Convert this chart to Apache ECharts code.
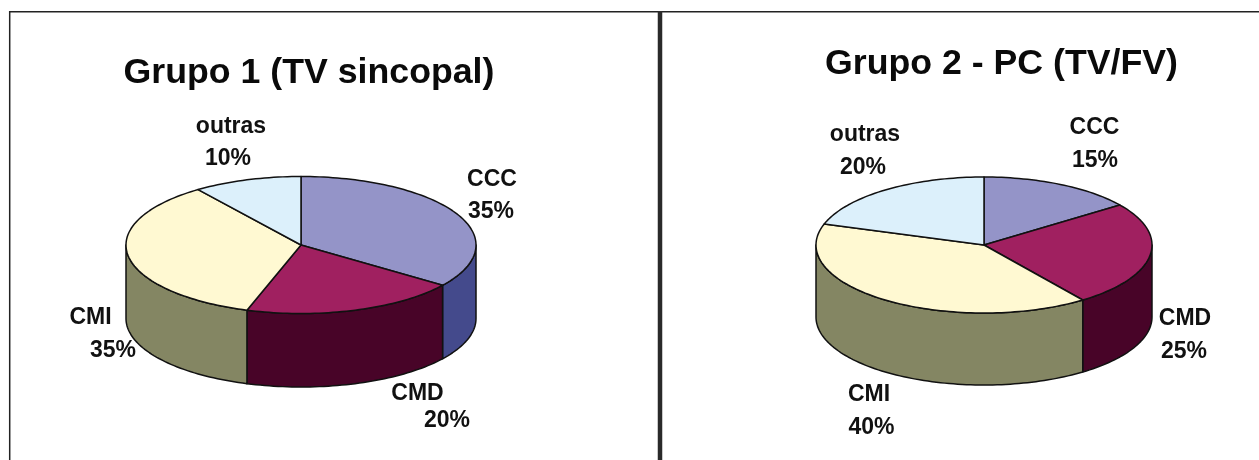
<!DOCTYPE html>
<html>
<head>
<meta charset="utf-8">
<style>html,body{margin:0;padding:0;background:#fff}#chart{width:1259px;height:460px}</style>
<script src="https://cdn.jsdelivr.net/npm/echarts@6/dist/echarts.min.js"></script>
</head>
<body>
<div id="chart"></div>
<script>
// Causes per group, clockwise from twelve o'clock
const categories = ['CCC', 'CMD', 'CMI', 'outras'];
const grupo1Values = [35, 20, 35, 10];
const grupo2Values = [15, 25, 40, 20];
const grupo1Title = 'Grupo 1 (TV sincopal)';
const grupo2Title = 'Grupo 2 - PC (TV/FV)';

const topColors = ['#9494c8', '#a02060', '#fff9d2', '#dcf0fb'];
const wallColors = ['#444a8c', '#480428', '#848663', '#a0b4c0'];

// Centre and radii of each disc's top face, with the height of its wall
const disc1 = { cx: 301, cy: 245, rx: 175, ry: 68.5, depth: 73.5 };
const disc2 = { cx: 984, cy: 245, rx: 168, ry: 68, depth: 72 };

// Centres of the name and percentage lines, by category
const labels1 = [[492, 180, 491, 212], [417.5, 393.5, 447, 421], [90.5, 318, 113, 351], [231, 127, 228, 159]];
const labels2 = [[1094.5, 127.5, 1095, 160.5], [1185, 319, 1184, 351.5], [869, 395, 871.5, 428], [865, 135, 863, 168]];

const FONT = '"Liberation Sans", Arial, sans-serif';
const INK = '#111';

function ringPoint(d, deg, dy) {
  const a = deg * Math.PI / 180;
  return [d.cx + d.rx * Math.sin(a), d.cy - d.ry * Math.cos(a) + (dy || 0)];
}

function arc(d, from, to, dy) {
  const pts = [];
  const n = Math.max(1, Math.ceil((to - from) / 1.5));
  for (let i = 0; i <= n; i++) pts.push(ringPoint(d, from + (to - from) * i / n, dy));
  return pts;
}

// Data rows: value, cumulative start, category index
function rows(values) {
  let sum = 0;
  return values.map((v, i) => { const r = [v, sum, i]; sum += v; return r; });
}

function wallSeries(values, disc) {
  return {
    type: 'custom', coordinateSystem: 'none', silent: true, z: 2,
    data: rows(values),
    renderItem: (params, api) => {
      const start = api.value(1) * 3.6, end = start + api.value(0) * 3.6;
      const from = Math.max(start, 90), to = Math.min(end, 270);
      if (to <= from) return { type: 'group', children: [] };
      const points = arc(disc, from, to, 0).concat(arc(disc, from, to, disc.depth).reverse());
      return {
        type: 'polygon', shape: { points },
        style: { fill: wallColors[api.value(2)], stroke: INK, lineWidth: 1.5, lineJoin: 'round' }
      };
    }
  };
}

function topSeries(values, disc, labelSpots) {
  return {
    type: 'custom', coordinateSystem: 'none', silent: true, z: 3,
    data: rows(values),
    renderItem: (params, api) => {
      const start = api.value(1) * 3.6, end = start + api.value(0) * 3.6;
      const i = api.value(2);
      const points = [[disc.cx, disc.cy]].concat(arc(disc, start, end, 0));
      const spot = labelSpots[i];
      const text = (t, x, y) => ({
        type: 'text', z2: 10,
        style: {
          text: t, x, y, align: 'center', verticalAlign: 'middle',
          font: 'bold 23px ' + FONT, fill: INK
        }
      });
      return {
        type: 'group',
        children: [
          { type: 'polygon', shape: { points },
            style: { fill: topColors[i], stroke: INK, lineWidth: 1.5, lineJoin: 'round' } },
          text(categories[i], spot[0], spot[1]),
          text(api.value(0) + '%', spot[2], spot[3])
        ]
      };
    }
  };
}

const chart = echarts.init(document.getElementById('chart'), null, { renderer: 'canvas' });
chart.setOption({
  animation: false,
  backgroundColor: '#fff',
  title: [
    { text: grupo1Title, left: 304, top: 68, textAlign: 'center', textVerticalAlign: 'middle',
      textStyle: { fontFamily: FONT, fontWeight: 'bold', fontSize: 35.7, color: '#0a0a0a' } },
    { text: grupo2Title, left: 996.5, top: 59.5, textAlign: 'center', textVerticalAlign: 'middle',
      textStyle: { fontFamily: FONT, fontWeight: 'bold', fontSize: 35.7, color: '#0a0a0a' } }
  ],
  graphic: [
    { type: 'line', shape: { x1: 9.7, y1: 11, x2: 9.7, y2: 460 }, style: { stroke: '#222', lineWidth: 1.5 } },
    { type: 'line', shape: { x1: 9, y1: 11.7, x2: 1259, y2: 11.7 }, style: { stroke: '#222', lineWidth: 1.5 } },
    { type: 'line', shape: { x1: 660, y1: 11, x2: 660, y2: 460 }, style: { stroke: '#2a2a2a', lineWidth: 4.5 } }
  ],
  series: [
    wallSeries(grupo1Values, disc1),
    topSeries(grupo1Values, disc1, labels1),
    wallSeries(grupo2Values, disc2),
    topSeries(grupo2Values, disc2, labels2)
  ]
});
</script>
</body>
</html>
